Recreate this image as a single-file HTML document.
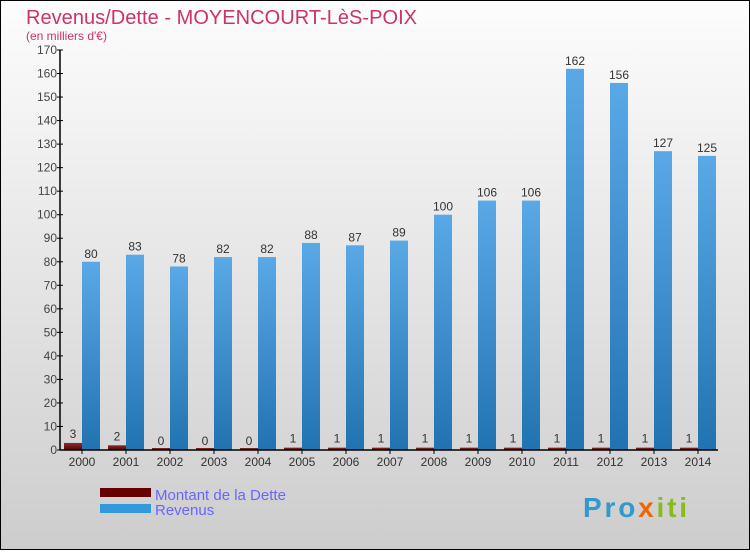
<!DOCTYPE html>
<html><head><meta charset="utf-8"><style>
html,body{margin:0;padding:0}
body{width:750px;height:550px;overflow:hidden;font-family:"Liberation Sans",sans-serif}
</style></head><body>
<svg id="chart" width="750" height="550" xmlns="http://www.w3.org/2000/svg">
<defs>
<linearGradient id="bg" x1="0" y1="0" x2="0" y2="1"><stop offset="0" stop-color="#fdfdfd"/><stop offset="1" stop-color="#cdcdcd"/></linearGradient>
<linearGradient id="blue" x1="0" y1="0" x2="0" y2="1"><stop offset="0" stop-color="#5aa9e6"/><stop offset="1" stop-color="#2173b0"/></linearGradient>
<linearGradient id="red" x1="0" y1="0" x2="0" y2="1"><stop offset="0" stop-color="#8b2a2a"/><stop offset="1" stop-color="#5a0000"/></linearGradient>
</defs>
<rect x="0.5" y="0.5" width="749" height="549" fill="url(#bg)" stroke="#000"/>
<text x="26" y="24" font-size="20" fill="#cc3366" textLength="391">Revenus/Dette - MOYENCOURT-LèS-POIX</text>
<text x="26" y="40" font-size="12" fill="#cc3366">(en milliers d'€)</text>
<g id="grid"></g>
<g id="bars"></g>
<g id="axes"></g>
<g>
<rect x="100" y="488" width="51" height="9" fill="#660000"/>
<text x="155" y="500" font-size="15" fill="#6666ff">Montant de la Dette</text>
<rect x="100" y="504" width="51" height="9" fill="#3399dd"/>
<text x="155" y="515" font-size="15" fill="#6666ff">Revenus</text>
</g>
<text x="583" y="517" font-size="28" font-weight="bold" fill="#3399cc" textLength="104">Pro<tspan fill="#ee6600">x</tspan><tspan fill="#88bb22">iti</tspan></text>
</svg>
<script>
const years=["2000","2001","2002","2003","2004","2005","2006","2007","2008","2009","2010","2011","2012","2013","2014"];
const dette=[3,2,0,0,0,1,1,1,1,1,1,1,1,1,1];
const revenus=[80,83,78,82,82,88,87,89,100,106,106,162,156,127,125];
const yTicks=[0,10,20,30,40,50,60,70,80,90,100,110,120,130,140,150,160,170];
const NS="http://www.w3.org/2000/svg";
const x0=60,y0=450,yTop=50,yMax=170,step=44,first=82,bw=18;
const y=v=>y0-(v/yMax)*(y0-yTop);
const xc=i=>first+i*step;
function mk(t,a,p,txt){const e=document.createElementNS(NS,t);for(const k in a)e.setAttribute(k,a[k]);if(txt!=null)e.textContent=txt;p.appendChild(e);return e;}
const bars=document.getElementById('bars'),axes=document.getElementById('axes');
years.forEach((yr,i)=>{
  const cx=xc(i);
  const hd=Math.max(y0-y(dette[i]),2);
  const r=mk('rect',{x:cx-bw,y:y0-hd,width:bw,height:hd,fill:'url(#red)'},bars);
  
  
  const t=mk('text',{x:cx-bw/2,y:y(dette[i])-5,'font-size':12,fill:'#333','text-anchor':'middle'},bars,String(dette[i]));
  
  
  const b=mk('rect',{x:cx,y:y(revenus[i]),width:bw,height:y0-y(revenus[i]),fill:'url(#blue)'},bars);
  
  
  const tv=mk('text',{x:cx+bw/2,y:y(revenus[i])-4,'font-size':12,fill:'#333','text-anchor':'middle'},bars,String(revenus[i]));
  
  
  const tk=mk('line',{x1:cx,x2:cx,y1:y0,y2:y0+4,stroke:'#000'},axes);
  
  
  const tl=mk('text',{x:cx,y:y0+16,'font-size':12,fill:'#333','text-anchor':'middle'},axes,yr);
  
  
});
yTicks.forEach(v=>{
  const tk=mk('line',{x1:x0-3,x2:x0+3,y1:y(v),y2:y(v),stroke:'#000'},axes);
  
  
  const tl=mk('text',{x:x0-3,y:y(v)+4,'font-size':12,fill:'#444','text-anchor':'end'},axes,String(v));
  
  
});
const ya=mk('line',{x1:x0,x2:x0,y1:yTop,y2:y0,stroke:'#000','stroke-width':1.5},axes);


const xa=mk('line',{x1:x0,x2:718,y1:y0,y2:y0,stroke:'#000','stroke-width':1.5},axes);


</script>
</body></html>
